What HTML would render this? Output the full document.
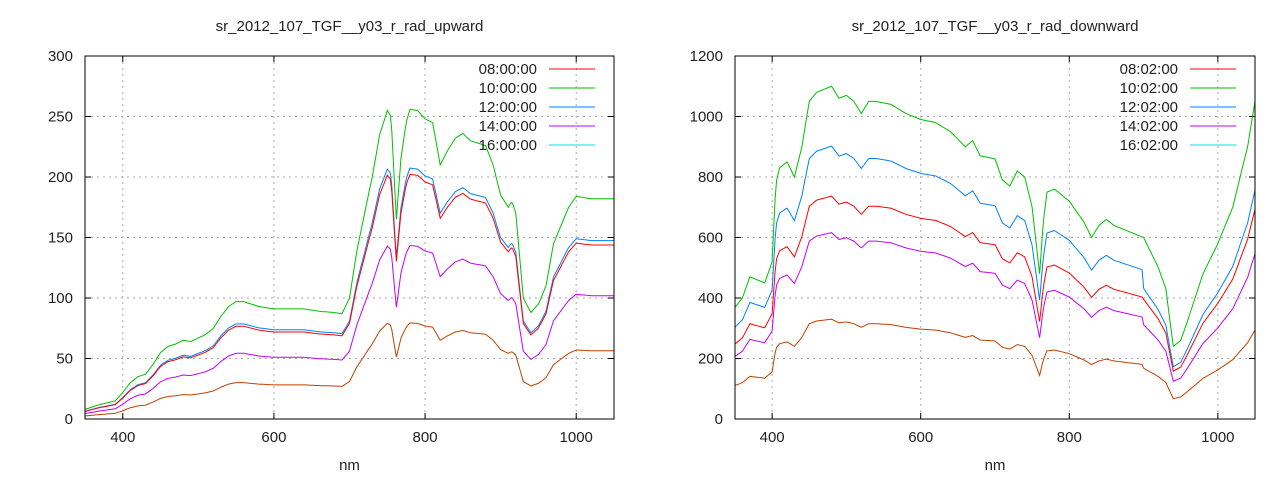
<!DOCTYPE html>
<html><head><style>
body{margin:0;background:#fff;}
svg text{font-family:"Liberation Sans",sans-serif;font-size:15px;fill:#222;}
</style></head><body>
<svg id="s" width="1280" height="480" xmlns="http://www.w3.org/2000/svg"></svg>
<script>
const S=document.getElementById('s');let h='';
function plot(o){
 const X=v=>o.x0+(v-350)/700*(o.x1-o.x0), Y=v=>o.y0-(v/o.ymax)*(o.y0-o.y1);
 h+=`<text x="${(o.x0+o.x1)/2}" y="31" text-anchor="middle">${o.title}</text>`;
 for(let v=0;v<=o.ymax;v+=o.ys){const y=Y(v);
  if(v>0&&v<o.ymax)h+=`<line x1="${o.x0}" x2="${o.x1}" y1="${y}" y2="${y}" stroke="#aaa" stroke-dasharray="2,4"/>`;
  h+=`<line x1="${o.x0}" x2="${o.x0+6}" y1="${y}" y2="${y}" stroke="#000"/><line x1="${o.x1-6}" x2="${o.x1}" y1="${y}" y2="${y}" stroke="#000"/>`;
  h+=`<text x="${o.x0-12}" y="${y+5}" text-anchor="end">${v}</text>`;}
 for(let v=400;v<=1000;v+=200){const x=X(v);
  h+=`<line x1="${x}" x2="${x}" y1="${o.y1}" y2="${o.y0}" stroke="#aaa" stroke-dasharray="2,4"/>`;
  h+=`<line x1="${x}" x2="${x}" y1="${o.y0}" y2="${o.y0-6}" stroke="#000"/><line x1="${x}" x2="${x}" y1="${o.y1}" y2="${o.y1+6}" stroke="#000"/>`;
  h+=`<text x="${x}" y="${o.y0+23}" text-anchor="middle">${v}</text>`;}
 h+=`<text x="${(o.x0+o.x1)/2}" y="470" text-anchor="middle">nm</text>`;
 const k=o.pts;
 function val(n){for(let i=0;i<k.length-1;i+=2){if(n<=k[i+2]){const t=(n-k[i])/(k[i+2]-k[i]);return k[i+1]+t*(k[i+3]-k[i+1]);}}return k[k.length-1];}
 const cols=['#00c000','#0080ff','#ff0000','#c000ff','#c04000'];
 o.f.forEach((f,ci)=>{let p=[];for(let n=350;n<=1050;n+=2){let v=val(n)*f(n);p.push(X(n).toFixed(1)+','+Y(v).toFixed(1));}
  h+=`<polyline points="${p.join(' ')}" fill="none" stroke="${cols[ci]}" stroke-width="1"/>`;});
 const lc=['#ff0000','#00c000','#0080ff','#c000ff','#00e0e0'];
 o.leg.forEach((t,i)=>{const y=69+i*19;h+=`<text x="${o.x1-77}" y="${y+5}" text-anchor="end">${t}</text><line x1="${o.x1-65}" x2="${o.x1-19}" y1="${y}" y2="${y}" stroke="${lc[i]}"/>`;});
 h+=`<rect x="${o.x0}" y="${o.y1}" width="${o.x1-o.x0}" height="${o.y0-o.y1}" fill="none" stroke="#000"/>`;
}
plot({x0:85,x1:614,y0:419,y1:56,ymax:300,ys:50,title:'sr_2012_107_TGF__y03_r_rad_upward',
 pts:[350,8,370,12,390,15,400,22,410,30,420,35,430,37,440,45,450,55,460,60,470,62,480,65,490,64,500,67,510,70,520,75,530,85,540,93,550,97,560,97,570,95,580,93,600,91,620,91,640,91,660,89,680,88,690,87,700,100,710,140,720,170,730,200,740,235,750,255,755,250,762,165,768,215,775,245,780,256,790,255,800,248,810,245,820,210,830,222,840,232,850,236,860,230,870,228,880,226,890,210,900,185,910,175,915,180,920,170,930,100,940,88,950,95,960,110,970,145,980,160,990,175,1000,184,1020,182,1050,182],
 f:[n=>1,n=>0.81,n=>0.79,n=>0.56,n=>0.31],
 leg:['08:00:00','10:00:00','12:00:00','14:00:00','16:00:00']});
plot({x0:735,x1:1255,y0:419,y1:56,ymax:1200,ys:200,title:'sr_2012_107_TGF__y03_r_rad_downward',
 pts:[350,370,360,400,370,470,380,460,390,450,400,520,405,780,410,830,420,850,430,800,440,900,450,1050,460,1080,470,1090,480,1100,490,1060,500,1070,510,1050,520,1010,530,1050,540,1050,560,1040,580,1010,600,990,620,980,640,950,660,900,670,920,680,870,700,860,710,790,720,770,730,820,740,800,750,700,760,480,765,650,770,750,780,760,800,720,820,650,830,600,840,640,850,660,860,640,880,620,900,600,920,500,930,430,940,240,950,260,960,330,980,480,1000,580,1020,700,1040,900,1050,1050],
 f:[n=>1,n=>n<900?0.82:0.72,n=>n<900?0.67:0.66,n=>n<900?0.56:0.52,n=>n<900?0.3:0.28],
 leg:['08:02:00','10:02:00','12:02:00','14:02:00','16:02:00']});
S.innerHTML=h;
</script>
</body></html>
